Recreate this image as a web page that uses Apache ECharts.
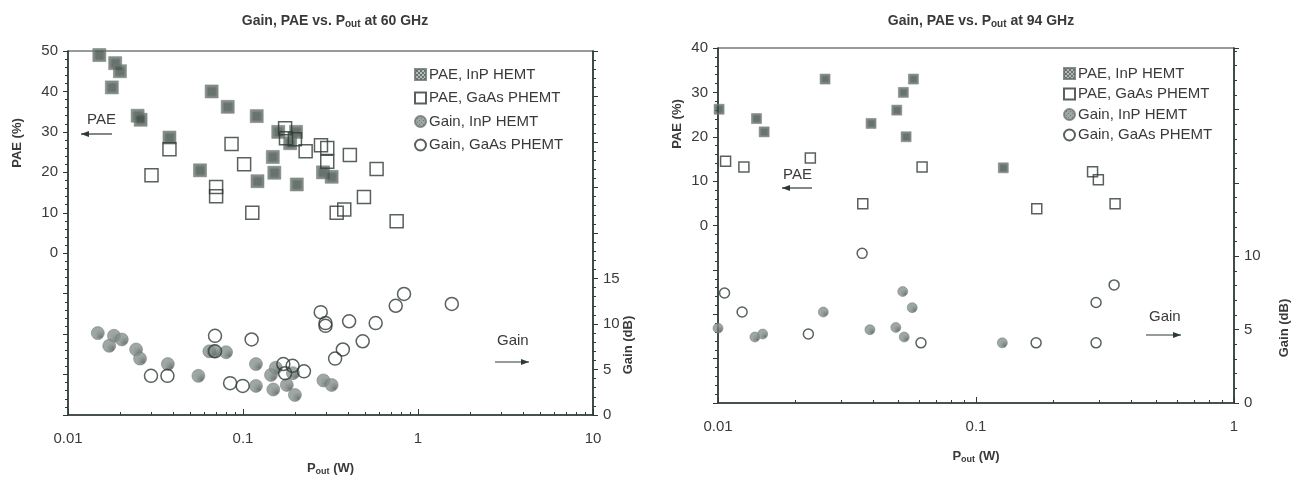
<!DOCTYPE html>
<html>
<head>
<meta charset="utf-8">
<title>Gain, PAE vs. Pout</title>
<script src="https://cdn.jsdelivr.net/npm/echarts@6/dist/echarts.min.js"></script>
<style>
  html, body { margin: 0; padding: 0; background: #fff; }
  #chart { width: 1305px; height: 483px; }
</style>
</head>
<body>
<div id="chart"></div>
<script>
// ---- data: [Pout (W), value] ----
// 60 GHz
var paeInp60 = [[0.0151,49],[0.0186,47],[0.0198,45],[0.0178,41],[0.025,34],[0.026,33],[0.038,28.6],
    [0.0568,20.5],[0.0662,40],[0.0818,36.2],[0.1198,33.9],[0.121,17.8],[0.148,23.8],[0.151,19.9],
    [0.159,30],[0.186,27.2],[0.201,30],[0.203,17],[0.2865,20],[0.321,18.9]];
var paeGaas60 = [[0.030,19.3],[0.038,25.7],[0.0702,16.4],[0.0702,14.1],[0.086,27],[0.1015,22],[0.113,10],
    [0.174,30.9],[0.176,28.4],[0.198,28.2],[0.228,25.2],[0.279,26.7],[0.303,26],[0.303,22.6],
    [0.408,24.3],[0.58,20.8],[0.491,13.9],[0.343,10],[0.379,10.8],[0.755,7.9]];
var gainInp60 = [[0.0148,9],[0.0183,8.7],[0.0172,7.6],[0.0203,8.3],[0.0245,7.2],[0.0258,6.2],[0.0372,5.6],
    [0.0556,4.3],[0.0642,7],[0.068,7],[0.080,6.9],[0.1186,5.6],[0.1186,3.2],[0.1445,4.4],[0.149,2.8],
    [0.154,5.2],[0.178,3.3],[0.198,2.2],[0.193,4.6],[0.288,3.8],[0.321,3.3]];
var gainGaas60 = [[0.0298,4.3],[0.037,4.3],[0.0692,8.7],[0.0692,7],[0.0844,3.5],[0.0996,3.2],[0.112,8.3],
    [0.170,5.6],[0.174,4.6],[0.192,5.4],[0.223,4.8],[0.278,11.3],[0.296,10.1],[0.296,9.8],
    [0.336,6.2],[0.372,7.2],[0.404,10.3],[0.483,8.1],[0.573,10.1],[0.746,12],[0.832,13.3],[1.56,12.2]];
// 94 GHz
var paeInp94 = [[0.0101,26.2],[0.0141,24.1],[0.0151,21.1],[0.026,33],[0.0392,23],[0.0493,26],
    [0.0523,30],[0.0536,20],[0.0572,33],[0.1276,13]];
var paeGaas94 = [[0.0107,14.5],[0.0126,13.2],[0.0228,15.2],[0.0364,4.9],[0.0618,13.2],
    [0.172,3.8],[0.283,12.1],[0.298,10.3],[0.346,4.9]];
var gainInp94 = [[0.0100,5.1],[0.0139,4.5],[0.0149,4.7],[0.0256,6.2],[0.0388,5],[0.0489,5.15],
    [0.052,7.6],[0.0527,4.5],[0.0566,6.5],[0.1265,4.1]];
var gainGaas94 = [[0.0362,10.2],[0.0106,7.5],[0.0124,6.2],[0.0224,4.7],[0.0612,4.1],
    [0.171,4.1],[0.292,4.1],[0.292,6.85],[0.343,8.05]];

var seriesNames = ['PAE, InP HEMT', 'PAE, GaAs PHEMT', 'Gain, InP HEMT', 'Gain, GaAs PHEMT'];

var ink = '#2e3a36';
var txt = '#3a3a3a';
var font = 'Liberation Sans, Arial, sans-serif';

// fill patterns for the shaded markers
function pattern(bg, fg, kind) {
    var c = document.createElement('canvas');
    c.width = 4; c.height = 4;
    var g = c.getContext('2d');
    g.fillStyle = bg; g.fillRect(0, 0, 4, 4);
    g.strokeStyle = fg; g.fillStyle = fg;
    if (kind == 'x') {
        g.lineWidth = 1;
        g.beginPath();
        g.moveTo(0, 0); g.lineTo(4, 4);
        g.moveTo(4, 0); g.lineTo(0, 4);
        g.stroke();
    } else {
        g.fillRect(0, 0, 1, 1); g.fillRect(2, 2, 1, 1);
    }
    return c;
}
var hatchFill = { image: pattern('#a3aca8', '#435049', 'x'), repeat: 'repeat' };
var dotFill = { image: pattern('#87928e', '#4e5955', 'd'), repeat: 'repeat' };

function makeSeries(gi, size, data4) {
    return [
        { name: seriesNames[0], type: 'scatter', xAxisIndex: gi, yAxisIndex: gi * 2, symbol: 'rect', symbolSize: size,
          data: data4[0], itemStyle: { color: hatchFill, borderColor: '#66726d', borderWidth: 0.6 } },
        { name: seriesNames[1], type: 'scatter', xAxisIndex: gi, yAxisIndex: gi * 2, symbol: 'rect', symbolSize: size,
          data: data4[1], itemStyle: { color: 'rgba(255,255,255,0)', borderColor: ink, borderWidth: 1.5 } },
        { name: seriesNames[2], type: 'scatter', xAxisIndex: gi, yAxisIndex: gi * 2 + 1, symbol: 'circle', symbolSize: size,
          data: data4[2], itemStyle: { color: dotFill, borderColor: '#6c7773', borderWidth: 0.6 } },
        { name: seriesNames[3], type: 'scatter', xAxisIndex: gi, yAxisIndex: gi * 2 + 1, symbol: 'circle', symbolSize: size,
          data: data4[3], itemStyle: { color: 'rgba(255,255,255,0)', borderColor: ink, borderWidth: 1.5 } }
    ];
}

function xAxis(gi, max) {
    return {
        type: 'log', logBase: 10, gridIndex: gi, min: 0.01, max: max,
        name: '{b|P}{s|out}{b| (W)}', nameLocation: 'middle', nameGap: 46,
        nameTextStyle: { rich: {
            b: { fontFamily: font, fontSize: 13, fontWeight: 'bold', color: txt },
            s: { fontFamily: font, fontSize: 9, fontWeight: 'bold', color: txt, padding: [6, 0, 0, 0] }
        } },
        axisLine: { onZero: false, lineStyle: { color: ink, width: 1.5 } },
        axisTick: { inside: true, length: 6, lineStyle: { color: ink } },
        minorTick: { show: true, splitNumber: 9, length: 3, lineStyle: { color: ink } },
        axisLabel: { color: txt, fontFamily: font, fontSize: 15, margin: 16,
            formatter: function (v) { return String(+v.toPrecision(3)); } },
        splitLine: { show: false }
    };
}

function yAxis(gi, pos, min, max, step, hideAbove, hideBelow) {
    return {
        type: 'value', gridIndex: gi, position: pos, min: min, max: max, interval: step,
        axisLine: { show: true, onZero: false, lineStyle: { color: ink, width: 1.5 } },
        axisTick: { show: true, length: 5, lineStyle: { color: ink } },
        minorTick: { show: true, splitNumber: 5, length: 3, lineStyle: { color: ink } },
        axisLabel: { color: txt, fontFamily: font, fontSize: 15, margin: 10,
            formatter: function (v) { return (v > hideAbove || v < hideBelow) ? '' : v; } },
        splitLine: { show: false }
    };
}

function titleOf(x, ghz) {
    return {
        text: 'Gain, PAE vs. P{s|out} at ' + ghz + ' GHz', left: x, top: 8, textAlign: 'center',
        textStyle: { fontFamily: font, fontSize: 14, fontWeight: 'bold', color: txt,
            rich: { s: { fontFamily: font, fontSize: 10, fontWeight: 'bold', color: txt, padding: [6, 0, 0, 0] } } }
    };
}

function legendOf(x, y, gap) {
    return {
        orient: 'vertical', left: x, top: y, itemGap: gap, itemWidth: 11, itemHeight: 11,
        data: seriesNames,
        textStyle: { fontFamily: font, fontSize: 15, color: txt, padding: [0, 0, 0, -2] }
    };
}

function vtext(x, y, s) {
    return { type: 'text', x: x, y: y, rotation: Math.PI / 2,
        style: { text: s, fontFamily: font, fontSize: 13, fontWeight: 'bold', fill: txt,
            textAlign: 'center', textVerticalAlign: 'middle' } };
}

function note(x, y, s, x1, x2, ay, right) {
    var tip = right ? x2 : x1;
    var d = right ? -8 : 8;
    return [
        { type: 'text', x: x, y: y, style: { text: s, fontFamily: font, fontSize: 15, fill: txt } },
        { type: 'line', shape: { x1: x1, y1: ay, x2: x2, y2: ay }, style: { stroke: ink, lineWidth: 1.2 } },
        { type: 'polygon', shape: { points: [[tip, ay], [tip + d, ay - 3], [tip + d, ay + 3]] }, style: { fill: ink } }
    ];
}

var chart = echarts.init(document.getElementById('chart'));
var option = {
    backgroundColor: '#fff',
    animation: false,
    title: [titleOf(330, 60), titleOf(976, 94)],
    legend: [legendOf(409, 62, 8.5), legendOf(1058, 61, 5.5)],
    grid: [
        { left: 68, right: 712, top: 51, bottom: 68, show: true, borderColor: ink, borderWidth: 1.2 },
        { left: 718, right: 71, top: 48, bottom: 80, show: true, borderColor: ink, borderWidth: 1.2 }
    ],
    xAxis: [xAxis(0, 10), xAxis(1, 1)],
    yAxis: [
        yAxis(0, 'left', -40, 50, 10, 50, 0),
        yAxis(0, 'right', 0, 40, 5, 15, 0),
        yAxis(1, 'left', -40, 40, 10, 40, 0),
        yAxis(1, 'right', 0, 24.2, 5, 10, 0)
    ],
    series: [].concat(
        makeSeries(0, 13, [paeInp60, paeGaas60, gainInp60, gainGaas60]),
        makeSeries(1, 10, [paeInp94, paeGaas94, gainInp94, gainGaas94])
    ),
    graphic: [].concat(
        [vtext(17, 143, 'PAE (%)'), vtext(628, 345, 'Gain (dB)'),
         vtext(677, 124, 'PAE (%)'), vtext(1284, 328, 'Gain (dB)')],
        note(87, 112, 'PAE', 81, 112, 134, false),
        note(497, 333, 'Gain', 495, 529, 362, true),
        note(783, 167, 'PAE', 782, 812, 188, false),
        note(1149, 309, 'Gain', 1146, 1181, 335, true)
    )
};
chart.setOption(option);
</script>
</body>
</html>
